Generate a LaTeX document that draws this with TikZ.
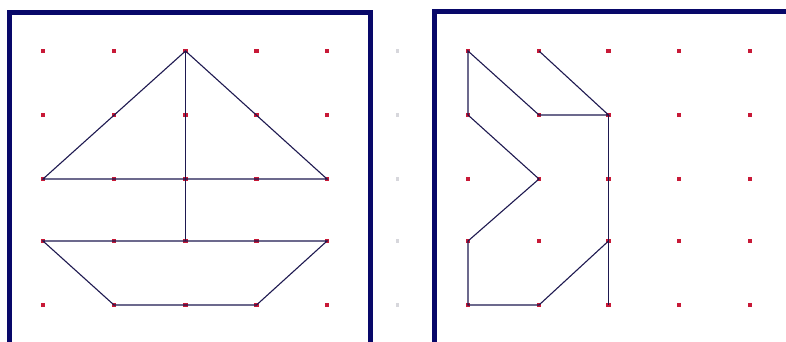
\documentclass[tikz,border=0pt]{standalone}
\definecolor{framecol}{RGB}{8,8,105}
\definecolor{dotcol}{RGB}{200,25,55}
\definecolor{linecol}{RGB}{30,25,80}
\definecolor{graydot}{RGB}{215,215,220}
\begin{document}
\begin{tikzpicture}[x=1pt,y=-1pt,
  dotsq/.style={fill=dotcol,draw=none,inner sep=0pt,minimum size=4.5pt,rectangle},
  graysq/.style={fill=graydot,draw=none,inner sep=0pt,minimum size=3.5pt,rectangle},
  frm/.style={draw=framecol,line width=5pt},
  seg/.style={draw=linecol,line width=1.1pt}]
\useasboundingbox (0,0) rectangle (786,341);
\fill[white] (0,0) rectangle (786,341);
\begin{scope}
\clip (0,0) rectangle (786,341);
\draw[frm] (9.5,350) -- (9.5,12) -- (370.5,12) -- (370.5,350);
\draw[frm] (434.5,350) -- (434.5,11.5) -- (795,11.5);
\end{scope}
% left grid
\foreach \i/\x in {0/43,1/114,2/185.5,3/256.5,4/327}
  \foreach \j/\y in {0/51,1/115,2/179,3/241,4/305}
    \node[dotsq] (L-\i-\j) at (\x,\y) {};
% middle gray column
\foreach \j/\y in {0/51,1/115,2/179,3/241,4/305}
  \node[graysq] (M-\j) at (397.5,\y) {};
% right grid
\foreach \i/\x in {0/468,1/539,2/608.5,3/679,4/750}
  \foreach \j/\y in {0/51,1/115,2/179,3/241,4/305}
    \node[dotsq] (R-\i-\j) at (\x,\y) {};
% boat
\draw[seg] (L-2-0.center) -- (L-0-2.center) -- (L-4-2.center) -- cycle;
\draw[seg] (L-2-0.center) -- (L-2-3.center);
\draw[seg] (L-0-3.center) -- (L-4-3.center) -- (L-3-4.center) -- (L-1-4.center) -- cycle;
% right figure
\draw[seg] (R-1-0.center) -- (R-2-1.center) -- (R-1-1.center) -- (R-0-0.center) -- (R-0-1.center) -- (R-1-2.center) -- (R-0-3.center) -- (R-0-4.center) -- (R-1-4.center) -- (R-2-3.center);
\draw[seg] (R-2-1.center) -- (R-2-4.center);
\end{tikzpicture}
\end{document}
